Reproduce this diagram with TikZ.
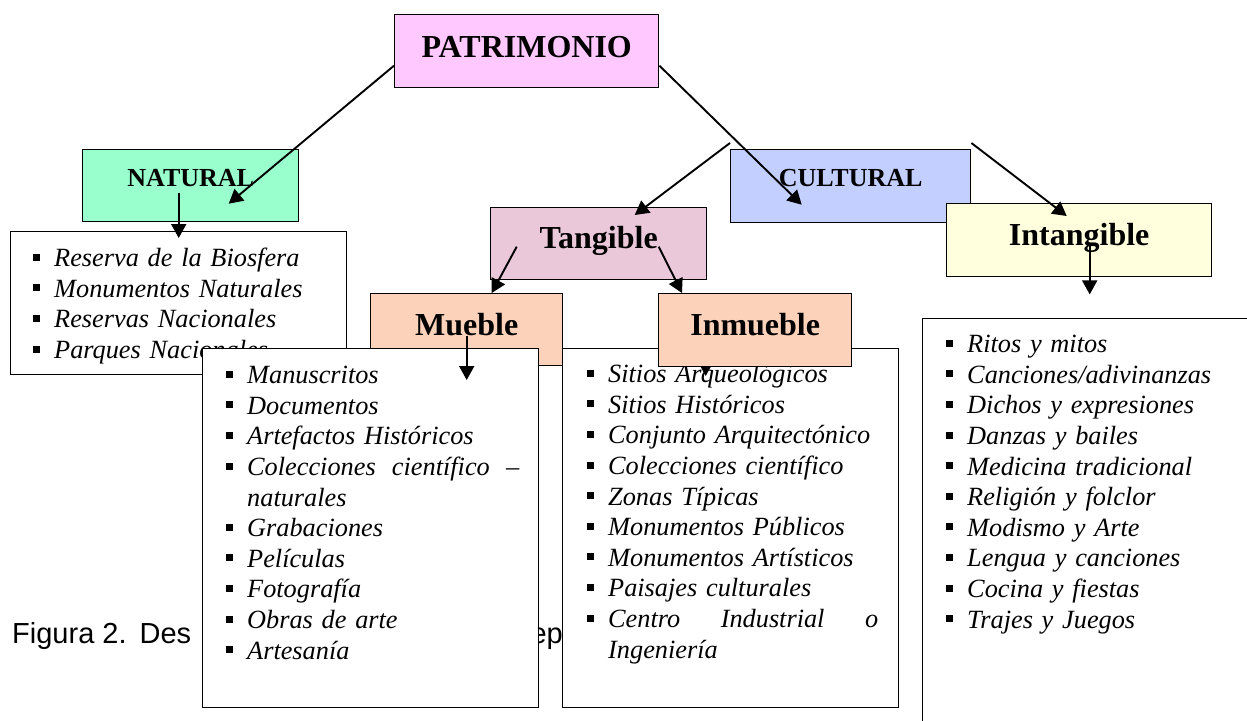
\documentclass[tikz,border=0pt]{standalone}
\usepackage{fontspec}
\setmainfont{Liberation Serif}
\newfontfamily\capfont{Liberation Sans}
\usetikzlibrary{arrows.meta,calc}
\definecolor{patcol}{RGB}{255,200,255}
\definecolor{natcol}{RGB}{153,255,204}
\definecolor{culcol}{RGB}{195,207,255}
\definecolor{tancol}{RGB}{234,200,218}
\definecolor{muecol}{RGB}{253,210,186}
\definecolor{intcol}{RGB}{255,255,221}
\lineskiplimit=-50pt
\newcommand{\bul}{\makebox[21.5pt][l]{\raisebox{6pt}{\rule{7pt}{7pt}}}}
\newcommand{\li}[2]{\hspace*{#1}\bul#2}
\tikzset
{
    headbox/.style   = {draw=black, line width=1.4pt, inner sep=0pt, anchor=north west, font=\fontsize{32}{36}\selectfont\bfseries},
    smallhead/.style = {headbox, font=\fontsize{26}{30}\selectfont\bfseries},
    listbox/.style   = {draw=black, line width=1.4pt, fill=white, inner sep=0pt, anchor=north west, align=left, font=\fontsize{26.3}{30.6}\selectfont\itshape},
    figtext/.style   = {inner sep=0pt, font=\capfont\fontsize{29}{33}\selectfont},
    conn/.style      = {-{Triangle[length=14pt,width=15pt]}, line width=1.9pt}
}
\begin{document}
\begin{tikzpicture}[x=1pt, y=-1pt]
    \clip (0,0) rectangle (1247,720);
    \fill [white] (0,0) rectangle (1247,720);
    % caption behind the lists
    \node [figtext, anchor=base west] (fig) at (12,643) {Figura 2.\hspace{13pt}Des};
    \node [figtext, anchor=base east] (figb) at (563,643) {ep};
    % lists and the boxes they overlap
    \node [listbox, text width=336pt, text height=35pt, text depth=108pt] (natl) at (10,231)
    {
        \li{22pt}{Reserva de la Biosfera}\\
        \li{22pt}{Monumentos Naturales}\\
        \li{22pt}{Reservas Nacionales}\\
        \li{22pt}{Parques Nacionales}
    };
    \node [headbox, fill=muecol, minimum width=192pt, text height=42pt, text depth=30pt] (mue) at (370,293) {Mueble};
    \node [listbox, text width=336pt, text height=35pt, text depth=324pt] (muel) at (202,348)
    {
        \li{23pt}{Manuscritos}\\
        \li{23pt}{Documentos}\\
        \li{23pt}{Artefactos Históricos}\\
        \li{23pt}{\makebox[272pt][l]{Colecciones\hfill científico\hfill –}}\\
        \hspace*{44.5pt}naturales\\
        \li{23pt}{Grabaciones}\\
        \li{23pt}{Películas}\\
        \li{23pt}{Fotografía}\\
        \li{23pt}{Obras de arte}\\
        \li{23pt}{Artesanía}
    };
    \node [listbox, text width=336pt, text height=34pt, text depth=325pt] (inml) at (562,348)
    {
        \li{24pt}{Sitios Arqueológicos}\\
        \li{24pt}{Sitios Históricos}\\
        \li{24pt}{Conjunto Arquitectónico}\\
        \li{24pt}{Colecciones científico}\\
        \li{24pt}{Zonas Típicas}\\
        \li{24pt}{Monumentos Públicos}\\
        \li{24pt}{Monumentos Artísticos}\\
        \li{24pt}{Paisajes culturales}\\
        \li{24pt}{\makebox[270pt][l]{Centro\hfill Industrial\hfill o}}\\
        \hspace*{45.5pt}Ingeniería
    };
    \draw [conn] ([xshift=-25pt,yshift=13pt]inml.north) -- ([xshift=-25pt,yshift=-28pt]inml.north);
    \node [headbox, fill=muecol, minimum width=193pt, text height=42pt, text depth=31pt] (inm) at (658,293) {Inmueble};
    \node [listbox, text width=340pt, text height=34pt, text depth=408pt] (intl) at (922,318)
    {
        \li{23pt}{Ritos y mitos}\\
        \li{23pt}{Canciones/adivinanzas}\\
        \li{23pt}{Dichos y expresiones}\\
        \li{23pt}{Danzas y bailes}\\
        \li{23pt}{Medicina tradicional}\\
        \li{23pt}{Religión y folclor}\\
        \li{23pt}{Modismo y Arte}\\
        \li{23pt}{Lengua y canciones}\\
        \li{23pt}{Cocina y fiestas}\\
        \li{23pt}{Trajes y Juegos}
    };
    % heading boxes
    \node [headbox, fill=patcol, minimum width=264pt, text height=43pt, text depth=30pt] (pat) at (394,14) {PATRIMONIO};
    \node [smallhead, fill=natcol, minimum width=216pt, text height=37pt, text depth=35pt] (nat) at (82,149) {NATURAL};
    \node [smallhead, fill=culcol, minimum width=240pt, text height=37pt, text depth=36pt] (cul) at (730,149) {CULTURAL};
    \node [headbox, fill=intcol, minimum width=265pt, text height=42pt, text depth=31pt] (intg) at (946,203) {Intangible};
    \node [headbox, fill=tancol, minimum width=216pt, text height=41pt, text depth=31pt] (tan) at (490,207) {Tangible};
    % connectors
    \draw [conn] ([yshift=-14.5pt]pat.west) -- ([xshift=38pt,yshift=-18pt]nat.center);
    \draw [conn] ([yshift=-14.5pt]pat.east) -- ([xshift=-49pt,yshift=-18.5pt]cul.center);
    \draw [conn] ([yshift=6pt]cul.north west) -- ([xshift=36pt,yshift=-8pt]tan.north);
    \draw [conn] ([yshift=6pt]cul.north east) -- ([xshift=-12.5pt,yshift=-13pt]intg.north);
    \draw [conn] ([xshift=-12pt,yshift=-7pt]nat.center) -- ([yshift=-7pt]natl.north);
    \draw [conn] ([xshift=-82pt,yshift=-3pt]tan.center) -- ([xshift=25pt]mue.north);
    \draw [conn] ([xshift=60pt,yshift=-3pt]tan.center) -- ([xshift=24pt]inm.north west);
    \draw [conn] ([yshift=-6pt]mue.center) -- ([xshift=96pt,yshift=-32pt]muel.north);
    \draw [conn] ([xshift=10.5pt,yshift=-3.5pt]intg.center) -- ([xshift=10.5pt,yshift=-17pt]intg.south);
\end{tikzpicture}
\end{document}
